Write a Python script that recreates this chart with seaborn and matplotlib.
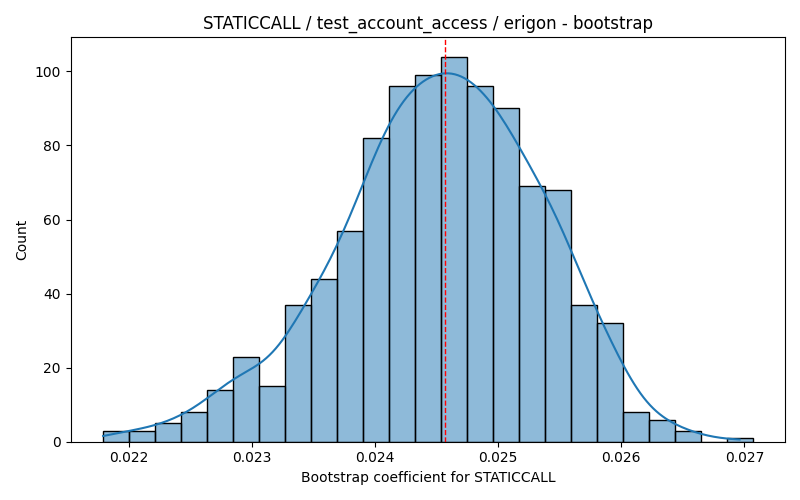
import numpy as np
import pandas as pd
import matplotlib
matplotlib.use("Agg")
import matplotlib.pyplot as plt
import seaborn as sns

# histogram: 25 bins of equal width
bin_start = 0.021789
bin_width = 0.0002111
counts = [3, 3, 5, 8, 14, 23, 15, 37, 44, 57, 82, 96, 99, 104,
          96, 90, 69, 68, 37, 32, 8, 6, 3, 0, 1]
point_estimate = 0.024564

n_bins = len(counts)
bin_end = bin_start + bin_width * n_bins
centers = bin_start + bin_width * (np.arange(n_bins) + 0.5)
df = pd.DataFrame({"coef": centers, "n": counts})

# weighted kde sees only ~14 effective points, so narrow the bandwidth
# back to what 1000 raw bootstrap samples would give
w = np.array(counts, dtype=float)
n_eff = w.sum() ** 2 / (w ** 2).sum()
bw_adj = (w.sum() / n_eff) ** (-1 / 5)

fig, ax = plt.subplots(figsize=(8, 5), dpi=100)
sns.histplot(data=df, x="coef", weights="n", bins=n_bins,
             binrange=(bin_start, bin_end), kde=True,
             kde_kws={"bw_adjust": bw_adj, "cut": 3,
                      "clip": (bin_start, bin_end - bin_width / 2)},
             ax=ax)
ax.axvline(point_estimate, color="red", linestyle="--", linewidth=1)

pad = 0.05 * (bin_end - bin_start)
ax.set_xlim(bin_start - pad, bin_end + pad)

ax.set_title("STATICCALL / test_account_access / erigon - bootstrap")
ax.set_xlabel("Bootstrap coefficient for STATICCALL")
ax.set_ylabel("Count")

plt.tight_layout()
plt.savefig("out.png")
plt.close()
